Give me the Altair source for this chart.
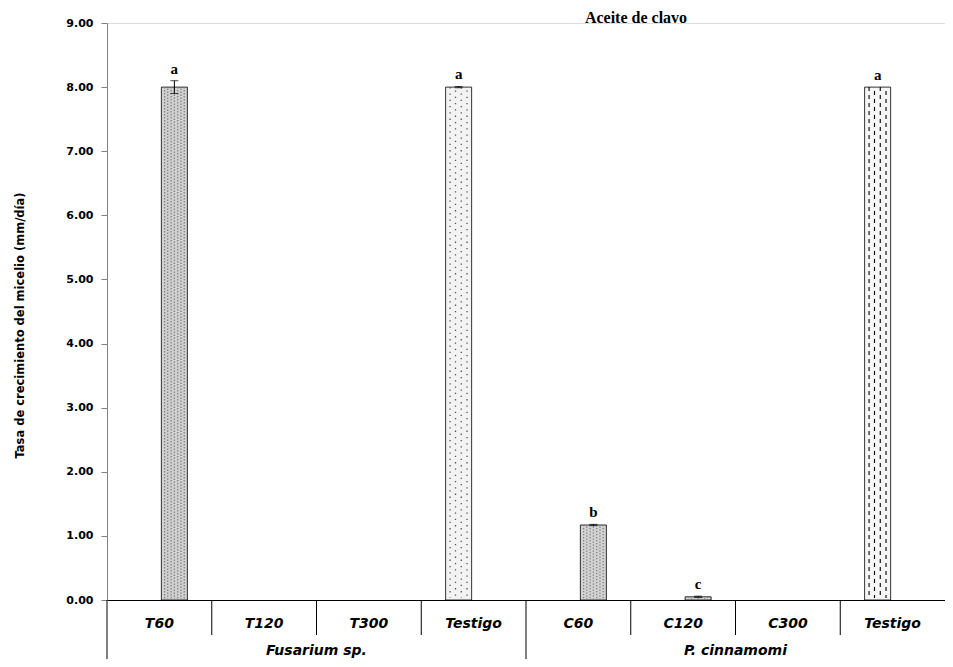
import altair as alt
import pandas as pd

# ---- data ----
keys = ["F|T60", "F|T120", "F|T300", "F|Testigo", "P|C60", "P|C120", "P|C300", "P|Testigo"]
labels = ["T60", "T120", "T300", "Testigo", "C60", "C120", "C300", "Testigo"]
groups = ["Fusarium sp."] * 4 + ["P. cinnamomi"] * 4
series = ["trat", "trat", "trat", "test", "trat", "trat", "trat", "test"]
values = [8.00, 0.0, 0.0, 8.00, 1.17, 0.05, 0.0, 8.00]
errors = [0.10, 0.0, 0.0, 0.01, 0.01, 0.01, 0.0, 0.0]
letters = ["a", "", "", "a", "b", "c", "", "a"]
patterns = ["dense", "none", "none", "sparse", "dense", "dense", "none", "dash"]
group_names = ["Fusarium sp.", "P. cinnamomi"]
group_mid_keys = ["F|T120", "P|C120"]
group_start_keys = ["F|T60", "P|C60"]
y_ticks = [0, 1, 2, 3, 4, 5, 6, 7, 8, 9]

W, H = 838, 577

df = pd.DataFrame({
    "key": keys, "label": labels, "group": groups, "series": series,
    "value": values, "err": errors, "letter": letters, "pattern": patterns,
})
df["lo"] = df["value"] - df["err"]
df["hi"] = df["value"] + df["err"]

gdf = pd.DataFrame({"group": group_names, "mid": group_mid_keys, "start": group_start_keys})

xscale = alt.Scale(domain=keys, paddingInner=0, paddingOuter=0)
xoff_scale = alt.Scale(domain=["test", "trat"], paddingInner=0.133, paddingOuter=0.8125)
yscale = alt.Scale(domain=[0, 9], nice=False, zero=True)

X = alt.X("key:N", scale=xscale, sort=keys,
          axis=alt.Axis(title=None, labelAngle=0, ticks=False, domainColor="black",
                        domainWidth=1, labelFont="DejaVu Sans", labelFontSize=14,
                        labelFontWeight="bold", labelFontStyle="italic", labelColor="black",
                        labelPadding=23, labelBaseline="middle",
                        labelExpr="split(datum.label, '|')[1]"))
XO = alt.XOffset("series:N", scale=xoff_scale)

base = alt.Chart(df)

bars = base.mark_bar(stroke="black", strokeWidth=0.8).encode(
    x=X, xOffset=XO,
    y=alt.Y("value:Q", scale=yscale,
            axis=alt.Axis(values=y_ticks, format=".2f", grid=False,
                          labelFont="DejaVu Sans", labelFontSize=11, labelFontWeight="bold",
                          labelColor="black", labelPadding=8, tickSize=6,
                          tickColor="#7f7f7f", domainColor="#7f7f7f",
                          title="Tasa de crecimiento del micelio (mm/día)",
                          titleFont="DejaVu Sans", titleFontSize=11.5, titleFontWeight="bold",
                          titleColor="black", titleX=-87, titleY=302,
                          titleAlign="center", titleBaseline="middle", titleAngle=270)),
    fill=alt.Fill("pattern:N",
                  scale=alt.Scale(domain=["dense", "sparse", "dash", "none"],
                                  range=["#d2d2d2", "#f3f3f3", "#f6f6f6", "#ffffff"]),
                  legend=None),
).transform_filter("datum.value > 0")

# pattern strokes inside the bars (texture imitation)
pattern_layers = []
test_cols = [0.275, 0.327, 0.382, 0.437]
for i, bp in enumerate(test_cols):
    pattern_layers.append(
        base.mark_rule(color="black", strokeWidth=1.1, strokeDash=[4, 4],
                       strokeDashOffset=(4 if i % 2 else 0)).encode(
            x=alt.X("key:N", scale=xscale, sort=keys, bandPosition=bp),
            y=alt.Y("value:Q", scale=yscale), y2=alt.datum(0.03),
        ).transform_filter("datum.pattern == 'dash'")
    )
for i, bp in enumerate(test_cols):
    pattern_layers.append(
        base.mark_rule(color="#555555", strokeWidth=1.3, strokeDash=[1.3, 5],
                       strokeDashOffset=(3 if i % 2 else 0)).encode(
            x=alt.X("key:N", scale=xscale, sort=keys, bandPosition=bp),
            y=alt.Y("value:Q", scale=yscale), y2=alt.datum(0.03),
        ).transform_filter("datum.pattern == 'sparse'")
    )
trat_cols = [0.55, 0.58, 0.612, 0.643, 0.675, 0.706, 0.737]
for i, bp in enumerate(trat_cols):
    pattern_layers.append(
        base.mark_rule(color="#7a7a7a", strokeWidth=1.2, strokeDash=[1.3, 1.7],
                       strokeDashOffset=(1.5 if i % 2 else 0)).encode(
            x=alt.X("key:N", scale=xscale, sort=keys, bandPosition=bp),
            y=alt.Y("value:Q", scale=yscale), y2=alt.datum(0.01),
        ).transform_filter("datum.pattern == 'dense'")
    )

err_rule = base.mark_rule(color="black", strokeWidth=1).encode(
    x=X, xOffset=XO, y=alt.Y("lo:Q", scale=yscale), y2="hi:Q",
).transform_filter("datum.err > 0")

err_cap_hi = base.mark_tick(color="black", thickness=1, size=8, orient="horizontal").encode(
    x=X, xOffset=XO, y=alt.Y("hi:Q", scale=yscale),
).transform_filter("datum.err > 0")
err_cap_lo = base.mark_tick(color="black", thickness=1, size=8, orient="horizontal").encode(
    x=X, xOffset=XO, y=alt.Y("lo:Q", scale=yscale),
).transform_filter("datum.err > 0")

letters_layer = base.mark_text(font="Liberation Serif", fontSize=15, fontWeight="bold",
                               baseline="bottom", dy=-4, color="black").encode(
    x=X, xOffset=XO, y=alt.Y("hi:Q", scale=yscale), text="letter:N",
).transform_filter("datum.letter != ''")

# category separators below the axis
seps = base.mark_rule(color="black", strokeWidth=1).encode(
    x=alt.X("key:N", scale=xscale, sort=keys, bandPosition=0),
    y=alt.value(H), y2=alt.value(H + 35),
).transform_filter("indexof(['F|T60','P|C60'], datum.key) < 0")

gbase = alt.Chart(gdf)
group_seps = gbase.mark_rule(color="black", strokeWidth=1).encode(
    x=alt.X("start:N", scale=xscale, sort=keys, bandPosition=0),
    y=alt.value(H), y2=alt.value(H + 59),
)
group_text = gbase.mark_text(font="DejaVu Sans", fontSize=14, fontWeight="bold",
                             fontStyle="italic", baseline="middle", color="black").encode(
    x=alt.X("mid:N", scale=xscale, sort=keys, bandPosition=1),
    y=alt.value(H + 51), text="group:N",
)

chart = alt.layer(
    bars, *pattern_layers, err_rule, err_cap_hi, err_cap_lo, letters_layer,
    seps, group_seps, group_text,
).properties(
    width=W, height=H,
    title=alt.TitleParams("Aceite de clavo", font="Liberation Serif", fontSize=16,
                          fontWeight="bold", anchor="middle", dx=110, dy=13, offset=4,
                          color="black"),
    autosize=alt.AutoSizeParams(type="none"),
    padding={"left": 99, "top": 15, "right": 0, "bottom": 59},
).configure_view(strokeWidth=0, stroke="transparent").configure(background="white")

chart.save("out.html", embed_options={"renderer": "svg", "actions": False})
